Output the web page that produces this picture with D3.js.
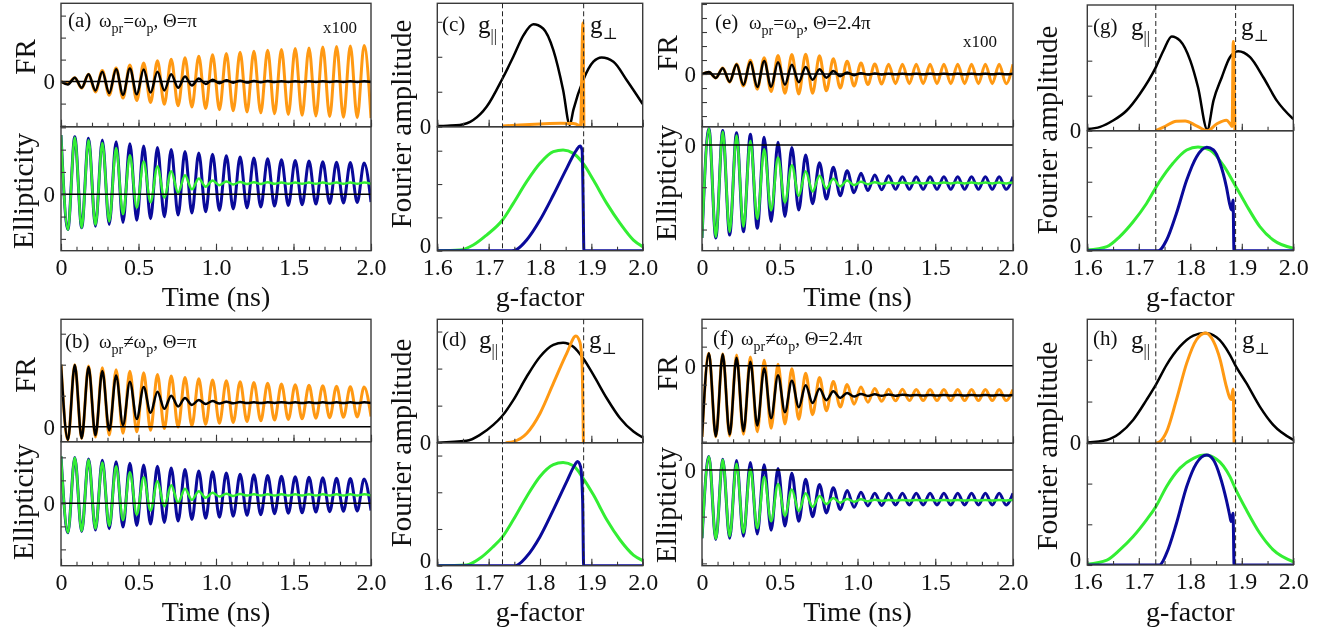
<!DOCTYPE html>
<head>
<meta charset="utf-8">
<script src="https://d3js.org/d3.v7.min.js"></script>
<style>
  body { margin:0; background:#fff; }
  svg { display:block; will-change: transform; }
  svg text { font-family: "Liberation Serif", "DejaVu Serif", serif !important; }
</style>
</head>
<body>
<div id="chart"></div>
<script>
// ------------------------------------------------------------------
// data
// time traces are stored as the successive extrema (max / min),
// one every half precession period (period ~0.089 ns)
// ------------------------------------------------------------------
var halfPeriod = 2 / 45;   // ns
var timeTicks = [0, 0.5, 1, 1.5, 2];
var gTicks = [1.6, 1.7, 1.8, 1.9, 2.0];

// (a) w_pr = w_p, Theta = pi
var aFrOrange = [0,-0.10,0.18,-0.30,0.33,-0.47,0.50,-0.62,0.62,-0.75,0.75,-0.86,0.85,-0.95,0.95,-1.03,1.02,-1.10,1.08,-1.15,1.15,-1.22,1.22,-1.28,1.28,-1.33,1.33,-1.38,1.38,-1.42,1.42,-1.46,1.46,-1.49,1.50,-1.53,1.53,-1.56,1.57,-1.59,1.60,-1.62,1.62,-1.64,1.64,-1.66];
var aFrBlack = [0,-0.13,0.18,-0.28,0.33,-0.40,0.45,-0.52,0.56,-0.60,0.60,-0.58,0.55,-0.50,0.45,-0.40,0.34,-0.28,0.23,-0.18,0.14,-0.11,0.09,-0.07,0.06,-0.05,0.04,-0.04,0.03,-0.03,0.03,-0.02,0.02,-0.02,0.02,-0.02,0.02,-0.02,0.02,-0.02,0.02,-0.02,0.02,-0.02,0.02,-0.02];
var aElBlue = [2.65,-1.58,2.58,-1.50,2.51,-1.43,2.43,-1.35,2.35,-1.26,2.26,-1.17,2.17,-1.10,2.10,-1.01,2.01,-0.93,1.92,-0.84,1.85,-0.78,1.79,-0.72,1.73,-0.66,1.67,-0.61,1.63,-0.57,1.59,-0.53,1.55,-0.50,1.52,-0.47,1.49,-0.44,1.46,-0.41,1.44,-0.39,1.42,-0.37,1.40,-0.35];
var aElGreen = [2.65,-1.59,2.55,-1.50,2.43,-1.37,2.30,-1.22,2.08,-0.90,1.75,-0.60,1.47,-0.36,1.25,-0.14,1.03,0.07,0.85,0.22,0.71,0.34,0.62,0.41,0.57,0.44,0.55,0.46,0.54,0.46,0.54,0.47,0.53,0.47,0.53,0.47,0.53,0.47,0.53,0.47,0.53,0.47,0.53,0.47,0.53,0.47];

// (b) w_pr != w_p, Theta = pi
var bFrOrange = [4.00,-0.85,4.00,-0.76,3.91,-0.66,3.80,-0.54,3.68,-0.43,3.58,-0.33,3.48,-0.23,3.37,-0.12,3.27,-0.02,3.18,0.06,3.09,0.15,3.02,0.22,2.96,0.27,2.90,0.33,2.85,0.38,2.80,0.43,2.75,0.47,2.71,0.51,2.67,0.55,2.64,0.58,2.61,0.61,2.58,0.63,2.56,0.65];
var bFrBlack = [4.00,-0.85,3.98,-0.75,3.85,-0.55,3.60,-0.25,3.30,0.10,2.90,0.50,2.56,0.90,2.26,1.15,2.00,1.30,1.85,1.40,1.72,1.47,1.65,1.50,1.61,1.51,1.59,1.52,1.58,1.52,1.58,1.53,1.58,1.53,1.57,1.53,1.57,1.53,1.57,1.53,1.57,1.53,1.57,1.53,1.57,1.53];
var bElBlue = [2.04,-1.28,1.99,-1.22,1.93,-1.16,1.87,-1.10,1.81,-1.03,1.74,-0.96,1.67,-0.90,1.61,-0.83,1.54,-0.77,1.47,-0.70,1.41,-0.65,1.37,-0.60,1.32,-0.56,1.27,-0.52,1.24,-0.49,1.21,-0.45,1.18,-0.43,1.16,-0.41,1.13,-0.38,1.11,-0.36,1.09,-0.34,1.08,-0.33,1.06,-0.31];
var bElGreen = [2.06,-1.27,1.98,-1.20,1.89,-1.10,1.78,-0.98,1.61,-0.73,1.35,-0.49,1.13,-0.31,0.96,-0.13,0.79,0.03,0.64,0.15,0.53,0.24,0.46,0.30,0.42,0.32,0.41,0.34,0.40,0.34,0.40,0.34,0.40,0.34,0.40,0.34,0.40,0.34,0.40,0.34,0.40,0.34,0.40,0.34,0.40,0.34];

// (e) w_pr = w_p, Theta = 2.4 pi
var eFrOrange = [0,0.13,-0.28,0.43,-0.58,0.72,-0.85,0.98,-1.08,1.17,-1.25,1.32,-1.37,1.40,-1.42,1.41,-1.37,1.30,-1.20,1.10,-1.00,0.92,-0.85,0.79,-0.75,0.72,-0.71,0.70,-0.69,0.70,-0.69,0.70,-0.69,0.70,-0.69,0.70,-0.69,0.70,-0.69,0.70,-0.69,0.70,-0.69,0.70,-0.69,0.70];
var eFrBlack = [0,0.14,-0.28,0.42,-0.55,0.68,-0.78,0.86,-0.92,0.93,-0.90,0.84,-0.76,0.67,-0.58,0.50,-0.41,0.34,-0.26,0.21,-0.15,0.11,-0.08,0.06,-0.04,0.03,-0.03,0.02,-0.02,0.02,-0.02,0.02,-0.02,0.02,-0.02,0.02,-0.02,0.02,-0.02,0.02,-0.02,0.02,-0.02,0.02,-0.02,0.02];
var eElBlue = [-2.20,0.39,-2.20,0.34,-2.13,0.29,-2.05,0.25,-1.97,0.18,-1.81,0.06,-1.69,-0.06,-1.54,-0.24,-1.39,-0.42,-1.28,-0.53,-1.20,-0.61,-1.13,-0.67,-1.08,-0.71,-1.06,-0.73,-1.05,-0.75,-1.05,-0.75,-1.05,-0.75,-1.05,-0.75,-1.05,-0.75,-1.05,-0.75,-1.05,-0.75,-1.05,-0.75,-1.05,-0.75];
var eElGreen = [-2.20,0.39,-2.17,0.31,-2.05,0.22,-1.93,0.10,-1.75,-0.10,-1.55,-0.30,-1.36,-0.48,-1.20,-0.62,-1.10,-0.73,-1.03,-0.80,-0.98,-0.84,-0.95,-0.87,-0.93,-0.88,-0.92,-0.89,-0.91,-0.89,-0.91,-0.89,-0.91,-0.89,-0.91,-0.89,-0.91,-0.89,-0.91,-0.89,-0.91,-0.89,-0.91,-0.89,-0.91,-0.89];

// (f) w_pr != w_p, Theta = 2.4 pi
var fFrOrange = [-3.75,0.65,-3.75,0.63,-3.70,0.56,-3.61,0.45,-3.48,0.29,-3.30,0.07,-3.07,-0.16,-2.82,-0.40,-2.58,-0.63,-2.37,-0.83,-2.18,-1.00,-2.03,-1.13,-1.93,-1.20,-1.88,-1.24,-1.85,-1.25,-1.84,-1.26,-1.84,-1.26,-1.84,-1.26,-1.84,-1.26,-1.84,-1.26,-1.84,-1.26,-1.84,-1.26,-1.84,-1.26];
var fFrBlack = [-3.75,0.65,-3.72,0.60,-3.63,0.42,-3.45,0.20,-3.15,-0.15,-2.77,-0.50,-2.45,-0.79,-2.19,-1.03,-1.97,-1.22,-1.82,-1.35,-1.70,-1.44,-1.63,-1.49,-1.60,-1.51,-1.59,-1.52,-1.58,-1.53,-1.57,-1.54,-1.57,-1.54,-1.57,-1.54,-1.57,-1.54,-1.57,-1.54,-1.57,-1.54,-1.57,-1.54,-1.57,-1.54];
var fElBlue = [-1.46,0.29,-1.49,0.23,-1.46,0.20,-1.42,0.16,-1.37,0.11,-1.29,0.03,-1.20,-0.07,-1.10,-0.20,-1.00,-0.31,-0.92,-0.38,-0.85,-0.44,-0.80,-0.48,-0.77,-0.50,-0.76,-0.50,-0.75,-0.50,-0.75,-0.50,-0.75,-0.50,-0.75,-0.50,-0.75,-0.50,-0.75,-0.50,-0.75,-0.50,-0.75,-0.50,-0.75,-0.50];
var fElGreen = [-1.46,0.29,-1.48,0.22,-1.42,0.13,-1.35,0.02,-1.25,-0.15,-1.10,-0.30,-0.98,-0.42,-0.88,-0.50,-0.79,-0.56,-0.73,-0.60,-0.70,-0.62,-0.68,-0.63,-0.67,-0.64,-0.66,-0.645,-0.655,-0.645,-0.655,-0.645,-0.655,-0.645,-0.655,-0.645,-0.655,-0.645,-0.655,-0.645,-0.655,-0.645,-0.655,-0.645,-0.655,-0.645];

// Fourier spectra: g-factor samples and amplitudes
var cBlkG = [1.600,1.620,1.644,1.670,1.696,1.727,1.748,1.768,1.787,1.806,1.826,1.845,1.858,1.865,1.884,1.904,1.920,1.943,1.969,2.000];
var cBlkA = [0.02,0.03,0.05,0.19,0.57,1.38,2.00,2.62,2.93,2.81,2.19,1.05,0.05,0.48,1.33,1.86,1.98,1.86,1.33,0.65];
var cOrgG = [1.727,1.760,1.800,1.840,1.865,1.875,1.879,1.8835,1.8855];
var cOrgA = [0.02,0.05,0.08,0.10,0.09,0.04,0.00,2.97,0.00];
var cGrnG = [1.600,1.644,1.670,1.696,1.727,1.748,1.774,1.800,1.826,1.845,1.865,1.884,1.904,1.930,1.956,1.982,2.000];
var cGrnA = [0.00,0.02,0.17,0.47,0.92,1.42,2.07,2.62,2.97,3.02,2.92,2.62,2.12,1.42,0.82,0.32,0.12];
var cBluG = [1.600,1.745,1.755,1.774,1.800,1.826,1.852,1.871,1.878,1.882,1.884,1.8855,2.000];
var cBluA = [0.00,0.00,0.04,0.32,0.92,1.67,2.47,3.02,3.14,3.02,1.50,0.00,0.00];

var dBlkG = [1.600,1.657,1.683,1.709,1.725,1.748,1.774,1.800,1.826,1.845,1.865,1.884,1.904,1.930,1.956,1.982,2.000];
var dBlkA = [0.00,0.05,0.21,0.48,0.70,1.15,1.78,2.32,2.64,2.70,2.59,2.28,1.83,1.20,0.66,0.30,0.14];
var dOrgG = [1.733,1.748,1.774,1.800,1.826,1.852,1.870,1.878,1.882,1.8845];
var dOrgA = [0.00,0.03,0.25,0.79,1.60,2.41,2.88,2.70,2.10,0.00];
var dGrnG = [1.600,1.657,1.683,1.709,1.725,1.748,1.774,1.800,1.826,1.845,1.865,1.884,1.904,1.930,1.956,1.982,2.000];
var dGrnA = [0.00,0.02,0.20,0.52,0.75,1.25,1.88,2.43,2.75,2.81,2.72,2.38,1.93,1.25,0.70,0.29,0.14];
var dBluG = [1.600,1.752,1.774,1.800,1.826,1.852,1.868,1.873,1.879,1.883,1.885,2.000];
var dBluA = [0.00,0.00,0.25,0.79,1.52,2.29,2.75,2.84,2.70,1.79,0.00,0.00];

var gBlkG = [1.600,1.625,1.650,1.676,1.702,1.733,1.748,1.764,1.780,1.800,1.815,1.833,1.845,1.861,1.877,1.893,1.916,1.942,1.968,2.000];
var gBlkA = [0.05,0.11,0.29,0.57,1.05,1.81,2.29,2.69,2.57,2.00,1.24,0.03,0.86,1.52,2.10,2.27,2.10,1.52,0.86,0.33];
var gOrgG = [1.733,1.748,1.773,1.790,1.812,1.833,1.851,1.870,1.878,1.8812,1.8834,1.8866];
var gOrgA = [0.00,0.10,0.27,0.28,0.14,0.00,0.19,0.30,0.18,0.12,2.55,0.00];
var gGrnG = [1.600,1.638,1.663,1.689,1.715,1.740,1.766,1.793,1.815,1.838,1.864,1.887,1.909,1.935,1.961,2.000];
var gGrnA = [0.02,0.12,0.41,0.84,1.37,2.00,2.53,2.92,3.01,2.92,2.48,1.90,1.32,0.70,0.31,0.07];
var gBluG = [1.600,1.738,1.754,1.773,1.793,1.812,1.832,1.845,1.858,1.870,1.877,1.880,1.883,1.8848,2.000];
var gBluA = [0.00,0.00,0.31,1.08,2.05,2.72,3.00,2.92,2.53,1.86,1.32,1.18,1.47,0.00,0.00];

var hBlkG = [1.600,1.638,1.663,1.689,1.715,1.733,1.754,1.780,1.806,1.828,1.851,1.877,1.887,1.909,1.935,1.961,2.000];
var hBlkA = [0.02,0.08,0.24,0.56,1.04,1.40,1.88,2.32,2.58,2.64,2.54,2.12,1.88,1.44,0.88,0.44,0.08];
var hOrgG = [1.733,1.741,1.754,1.773,1.793,1.812,1.830,1.845,1.858,1.870,1.877,1.8795,1.883,1.885];
var hOrgA = [0.00,0.04,0.28,1.04,1.92,2.48,2.64,2.44,2.00,1.36,1.08,1.05,1.30,0.00];
var hGrnG = [1.600,1.638,1.663,1.689,1.715,1.733,1.754,1.780,1.806,1.828,1.851,1.877,1.887,1.909,1.935,1.961,2.000];
var hGrnA = [0.02,0.12,0.37,0.70,1.11,1.43,1.93,2.38,2.62,2.70,2.60,2.17,1.89,1.35,0.78,0.37,0.08];
var hBluG = [1.600,1.740,1.754,1.773,1.793,1.812,1.832,1.845,1.858,1.870,1.877,1.879,1.883,1.885,2.000];
var hBluA = [0.00,0.00,0.29,1.02,1.93,2.50,2.70,2.58,2.17,1.60,1.19,1.07,1.27,0.00,0.00];

// ------------------------------------------------------------------
var W = 1319, H = 627;
var font = '"Liberation Serif", "DejaVu Serif", serif';
var col = { orange:'#ff9913', black:'#000000', blue:'#0a0a9a', green:'#33ee33' };
var frameCol = '#3a3a3a';

var svg = d3.select('#chart').append('svg')
    .attr('width', W).attr('height', H)
    .style('font-family', font);

var clipCount = 0;
function subplot(x0, x1, y0, y1, xDom, yDom) {
  var x = d3.scaleLinear().domain(xDom).range([x0, x1]);
  var y = d3.scaleLinear().domain(yDom).range([y1, y0]);
  var id = 'clip' + (clipCount++);
  svg.append('clipPath').attr('id', id).append('rect')
    .attr('x', x0).attr('y', y0).attr('width', x1 - x0).attr('height', y1 - y0);
  var g = svg.append('g');
  var plot = g.append('g').attr('clip-path', 'url(#' + id + ')');
  return { x:x, y:y, g:g, plot:plot, x0:x0, x1:x1, y0:y0, y1:y1 };
}

function styleAxis(a, size) {
  a.select('.domain').remove();
  a.selectAll('line').attr('stroke', frameCol).attr('stroke-width', 1.1);
  a.selectAll('text').attr('font-family', font).attr('font-size', size).attr('fill', '#111');
}

function bottomTicks(sp, minor, major, fmt) {
  var a1 = sp.g.append('g').attr('transform', 'translate(0,' + sp.y1 + ')')
    .call(d3.axisBottom(sp.x).tickValues(minor).tickSize(-4).tickFormat(''));
  styleAxis(a1, 24);
  var a2 = sp.g.append('g').attr('transform', 'translate(0,' + sp.y1 + ')')
    .call(d3.axisBottom(sp.x).tickValues(major).tickSize(-7).tickPadding(7)
      .tickFormat(fmt ? fmt : function() { return ''; }));
  styleAxis(a2, 24);
}

// zeroShift lifts the "0" label a little when it sits on the bottom axis
function leftTicks(sp, step, zeroShift) {
  var dom = sp.y.domain(), vals = [];
  for (var v = Math.ceil(dom[0] / step) * step; v <= dom[1] + 1e-9; v += step) vals.push(v);
  var a = sp.g.append('g').attr('transform', 'translate(' + sp.x0 + ',0)')
    .call(d3.axisLeft(sp.y).tickValues(vals).tickSize(-5).tickPadding(6)
      .tickFormat(function(d) { return Math.abs(d) < 1e-9 ? '0' : ''; }));
  styleAxis(a, 23);
  if (zeroShift) a.selectAll('text').attr('y', -zeroShift);
}

function frame(sp) {
  sp.g.append('rect').attr('x', sp.x0).attr('y', sp.y0)
    .attr('width', sp.x1 - sp.x0).attr('height', sp.y1 - sp.y0)
    .attr('fill', 'none').attr('stroke', frameCol).attr('stroke-width', 1.4);
}

function timeLine(sp, vals, color, w) {
  var line = d3.line()
    .x(function(d, i) { return sp.x(i * halfPeriod); })
    .y(function(d) { return sp.y(d); })
    .curve(d3.curveMonotoneX);
  sp.plot.append('path').attr('d', line(vals)).attr('fill', 'none')
    .attr('stroke', color).attr('stroke-width', w).attr('stroke-linejoin', 'round');
}

function zeroLine(sp) {
  sp.plot.append('line').attr('x1', sp.x0).attr('x2', sp.x1)
    .attr('y1', sp.y(0)).attr('y2', sp.y(0))
    .attr('stroke', '#000').attr('stroke-width', 1.5);
}

function specLine(sp, gs, amps, color, w) {
  var line = d3.line()
    .x(function(d) { return sp.x(d[0]); })
    .y(function(d) { return sp.y(d[1]); })
    .curve(d3.curveMonotoneX);
  sp.plot.append('path').attr('d', line(d3.zip(gs, amps))).attr('fill', 'none')
    .attr('stroke', color).attr('stroke-width', w).attr('stroke-linejoin', 'round');
}

function richText(x, y, size, parts) {
  var t = svg.append('text').attr('x', x).attr('y', y).attr('font-size', size).attr('fill', '#111');
  var shifted = 0;
  parts.forEach(function(p) {
    if (typeof p === 'string') {
      t.append('tspan').attr('dy', -shifted).text(p);
      shifted = 0;
    } else {
      var s = t.append('tspan').attr('dy', p.dy - shifted).attr('font-size', p.size).text(p.sub);
      if (p.ls) s.attr('letter-spacing', p.ls);
      shifted = p.dy;
    }
  });
  return t;
}

function yTitle(x, y, txt) {
  svg.append('text').attr('transform', 'translate(' + x + ',' + y + ') rotate(-90)')
    .attr('text-anchor', 'middle').attr('font-size', 29).attr('fill', '#111').text(txt);
}
function xTitle(x, y, txt) {
  svg.append('text').attr('x', x).attr('y', y)
    .attr('text-anchor', 'middle').attr('font-size', 28).attr('fill', '#111').text(txt);
}

var timeMinor = d3.range(0, 21).map(function(i) { return i / 10; });
var timeFmt = function(d) { return d === 0 ? '0' : d3.format('.1f')(d); };
var gMinor = d3.range(0, 9).map(function(i) { return 1.6 + i * 0.05; });
var gFmt = d3.format('.1f');

// ---------------- time-domain panels ----------------
var timePanels = [
  { x0:61, x1:371, top:[3.3,126.7,-2.05,3.56,1], bot:[126.7,250.7,-2.53,3.03,1],
    fr:[aFrOrange, aFrBlack], el:[aElBlue, aElGreen], letter:'(a)', lx:68, ly:27, wx:99,
    neq:'=', theta:'π', x100:[323,33], frT:[35,57], elT:[33,191], tY:306 },
  { x0:61, x1:371, top:[319.3,441.7,-0.97,6.93,2], bot:[441.7,565.7,-2.71,2.68,1],
    fr:[bFrOrange, bFrBlack], el:[bElBlue, bElGreen], letter:'(b)', lx:65, ly:348, wx:99,
    neq:'≠', theta:'π', x100:null, frT:[35,375], elT:[33,502], tY:621 },
  { x0:702, x1:1013, top:[3.3,126.7,-3.76,5.05,1], bot:[126.7,250.7,-2.5,0.43,1],
    fr:[eFrOrange, eFrBlack], el:[eElBlue, eElGreen], letter:'(e)', lx:715, ly:29, wx:749,
    neq:'=', theta:'2.4π', x100:[963,47], frT:[677,53], elT:[676,183], tY:306 },
  { x0:702, x1:1013, top:[319.3,443.3,-4.09,2.44,1], bot:[443.3,565.7,-2.05,0.57,1],
    fr:[fFrOrange, fFrBlack], el:[fElBlue, fElGreen], letter:'(f)', lx:713, ly:345, wx:741,
    neq:'≠', theta:'2.4π', x100:null, frT:[677,373], elT:[676,505], tY:621 }
];

timePanels.forEach(function(p) {
  var t = subplot(p.x0, p.x1, p.top[0], p.top[1], [0, 2], [p.top[2], p.top[3]]);
  timeLine(t, p.fr[0], col.orange, 3);
  timeLine(t, p.fr[1], col.black, 2.5);
  zeroLine(t);
  bottomTicks(t, timeMinor, timeTicks, null);
  leftTicks(t, p.top[4], 0);
  frame(t);

  var b = subplot(p.x0, p.x1, p.bot[0], p.bot[1], [0, 2], [p.bot[2], p.bot[3]]);
  timeLine(b, p.el[0], col.blue, 3);
  timeLine(b, p.el[1], col.green, 2.5);
  zeroLine(b);
  bottomTicks(b, timeMinor, timeTicks, timeFmt);
  leftTicks(b, p.bot[4], 0);
  frame(b);

  svg.append('text').attr('x', p.lx).attr('y', p.ly).attr('font-size', 21).attr('fill', '#111').text(p.letter);
  richText(p.wx, p.ly, 19, ['ω', { sub:'pr', size:14, dy:6 }, p.neq + 'ω', { sub:'p', size:14, dy:6 }, ', Θ=' + p.theta]);
  if (p.x100) {
    svg.append('text').attr('x', p.x100[0]).attr('y', p.x100[1]).attr('font-size', 17).attr('fill', '#111').text('x100');
  }
  yTitle(p.frT[0], p.frT[1], 'FR');
  yTitle(p.elT[0], p.elT[1], 'Ellipticity');
  xTitle((p.x0 + p.x1) / 2, p.tY, 'Time (ns)');
});

// ---------------- Fourier panels ----------------
var specPanels = [
  { x0:437.3, x1:642.7, top:[3.3,126.7,3.53], bot:[126.7,250.7,3.72], gPar:1.727, gPerp:1.885,
    topC:[[cBlkG,cBlkA],[cOrgG,cOrgA]], botC:[[cGrnG,cGrnA],[cBluG,cBluA]],
    letter:'(c)', lx:442, ly:31, gy:33, gx1:478, gx2:590, fT:[411,124], tY:306 },
  { x0:437.3, x1:642.7, top:[319.3,442.7,3.33], bot:[442.7,565.7,3.35], gPar:1.727, gPerp:1.885,
    topC:[[dBlkG,dBlkA],[dOrgG,dOrgA]], botC:[[dGrnG,dGrnA],[dBluG,dBluA]],
    letter:'(d)', lx:442, ly:346, gy:348, gx1:479, gx2:589, fT:[411,443], tY:621 },
  { x0:1087.3, x1:1293.3, top:[5,130.7,3.59], bot:[130.7,250.7,3.48], gPar:1.733, gPerp:1.888,
    topC:[[gBlkG,gBlkA],[gOrgG,gOrgA]], botC:[[gGrnG,gGrnA],[gBluG,gBluA]],
    letter:'(g)', lx:1093, ly:33, gy:35, gx1:1131, gx2:1241, fT:[1057,130], tY:306 },
  { x0:1087.3, x1:1293.3, top:[319.3,443.3,2.97], bot:[443.3,565,2.99], gPar:1.733, gPerp:1.888,
    topC:[[hBlkG,hBlkA],[hOrgG,hOrgA]], botC:[[hGrnG,hGrnA],[hBluG,hBluA]],
    letter:'(h)', lx:1093, ly:345, gy:348, gx1:1131, gx2:1242, fT:[1057,446], tY:621 }
];

specPanels.forEach(function(p) {
  var t = subplot(p.x0, p.x1, p.top[0], p.top[1], [1.6, 2.0], [0, p.top[2]]);
  specLine(t, p.topC[0][0], p.topC[0][1], col.black, 2.5);
  specLine(t, p.topC[1][0], p.topC[1][1], col.orange, 3);
  bottomTicks(t, gMinor, gTicks, null);
  leftTicks(t, 1, 1);
  frame(t);

  var b = subplot(p.x0, p.x1, p.bot[0], p.bot[1], [1.6, 2.0], [0, p.bot[2]]);
  specLine(b, p.botC[0][0], p.botC[0][1], col.green, 3);
  specLine(b, p.botC[1][0], p.botC[1][1], col.blue, 3);
  bottomTicks(b, gMinor, gTicks, gFmt);
  leftTicks(b, 1, 6);
  frame(b);

  [p.gPar, p.gPerp].forEach(function(gv) {
    svg.append('line').attr('x1', t.x(gv)).attr('x2', t.x(gv))
      .attr('y1', p.top[0]).attr('y2', p.bot[1])
      .attr('stroke', '#222').attr('stroke-width', 1).attr('stroke-dasharray', '5,3');
  });

  svg.append('text').attr('x', p.lx).attr('y', p.ly).attr('font-size', 21).attr('fill', '#111').text(p.letter);
  richText(p.gx1, p.gy, 25, ['g', { sub:'||', size:16, dy:8 }]);
  richText(p.gx2, p.gy, 25, ['g', { sub:'⊥', size:16, dy:6 }]);
  yTitle(p.fT[0], p.fT[1], 'Fourier amplitude');
  xTitle((p.x0 + p.x1) / 2, p.tY, 'g-factor');
});
</script>
</body>
